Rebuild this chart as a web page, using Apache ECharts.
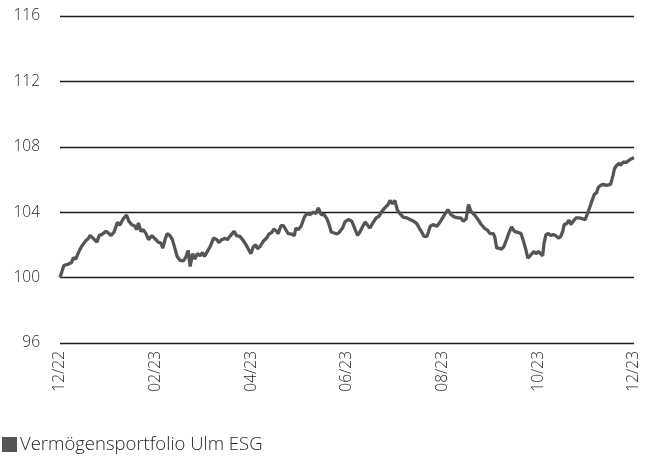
<!DOCTYPE html>
<html>
<head>
<meta charset="utf-8">
<script src="https://cdn.jsdelivr.net/npm/echarts@6/dist/echarts.min.js"></script>
<style>
html,body{margin:0;padding:0;background:#fff;}
#chart{width:649px;height:456px;}
</style>
</head>
<body>
<div id="chart"></div>
<script>
// Time position in months since the start (12/22 = 0, 12/23 = 12)
var months = [0,0.08,0.17,0.24,0.28,0.33,0.38,0.45,0.54,0.59,0.63,0.70,0.77,0.82,0.87,0.96,1.01,1.07,1.13,1.20,1.25,1.32,1.39,1.44,1.50,1.57,1.60,1.64,1.69,1.74,1.80,1.85,1.92,
1.94,1.99,2.06,2.11,2.15,2.20,2.24,2.30,2.35,2.40,2.45,2.51,2.58,2.63,2.68,2.72,2.77,2.82,2.87,2.93,2.98,3.02,3.08,3.14,3.21,3.28,3.32,3.38,3.45,3.50,3.55,3.64,3.69,3.76,3.83,
3.90,3.99,4.04,4.09,4.13,4.18,4.25,4.32,4.37,4.43,4.47,4.53,4.56,4.62,4.67,4.72,4.77,4.84,4.90,4.93,4.98,5.04,5.11,5.16,5.23,5.30,5.35,5.40,5.46,5.52,5.58,5.62,5.67,5.71,5.79,5.84,
5.91,5.96,6.03,6.10,6.15,6.22,6.27,6.33,6.38,6.43,6.48,6.54,6.61,6.67,6.73,6.79,6.86,6.90,6.95,7.00,7.05,7.11,7.18,7.25,7.32,7.39,7.46,7.51,7.56,7.61,7.67,7.70,7.74,7.80,7.88,
7.95,8.03,8.11,8.17,8.24,8.31,8.38,8.43,8.49,8.54,8.59,8.66,8.73,8.80,8.87,8.94,8.99,9.06,9.09,9.13,9.18,9.23,9.28,9.34,9.39,9.44,9.50,9.57,9.64,9.69,9.74,9.78,9.83,9.87,
9.91,9.95,10.00,10.05,10.09,10.12,10.16,10.21,10.26,10.31,10.36,10.42,10.47,10.51,10.54,10.59,10.64,10.68,10.73,10.79,10.86,10.93,10.98,11.02,11.07,11.12,11.17,11.22,11.25,11.30,11.36,11.42,11.46,11.51,11.56,11.59,11.64,11.69,11.72,11.78,11.83,11.88,11.93,11.97,12.00];
var values = [100.0,100.74,100.82,100.92,101.23,101.13,101.5,101.9,102.26,102.38,102.58,102.38,102.17,102.58,102.63,102.83,102.73,102.58,102.79,103.38,103.2,103.59,103.82,103.45,103.24,103.14,102.93,103.34,102.83,102.93,102.67,102.32,102.57,
102.63,102.36,102.15,102.11,101.8,102.36,102.69,102.57,102.32,101.8,101.29,101.05,101.02,101.25,101.66,100.68,101.46,101.13,101.46,101.34,101.54,101.29,101.6,101.9,102.42,102.32,102.15,102.32,102.4,102.32,102.52,102.83,102.57,102.52,102.28,
101.95,101.46,101.87,102.01,101.77,101.9,102.22,102.42,102.67,102.77,102.97,102.83,102.69,103.18,103.18,102.93,102.69,102.67,102.57,103.03,102.93,103.14,103.71,103.91,103.86,104.0,103.91,104.26,103.86,103.86,103.59,103.3,102.79,102.67,102.67,102.77,
103.05,103.42,103.55,103.45,103.08,102.58,102.79,103.14,103.4,103.2,103.03,103.34,103.65,103.75,104.06,104.26,104.47,104.72,104.51,104.72,104.16,103.9,103.69,103.65,103.55,103.45,103.3,103.03,102.79,102.52,102.52,102.77,103.14,103.24,103.14,
103.42,103.8,104.16,103.86,103.71,103.65,103.65,103.45,103.59,104.47,104.06,103.86,103.59,103.28,103.03,102.89,102.69,102.69,102.48,101.8,101.8,101.74,101.9,102.36,102.77,103.1,102.83,102.77,102.69,102.22,101.7,101.19,101.34,101.46,
101.6,101.46,101.6,101.46,101.33,102.11,102.63,102.69,102.57,102.63,102.57,102.42,102.52,102.83,103.24,103.3,103.51,103.24,103.45,103.65,103.65,103.59,103.55,103.86,104.26,104.68,105.09,105.2,105.5,105.64,105.7,105.64,105.76,105.7,106.22,106.66,106.87,107.0,106.87,107.08,107.03,107.14,107.24,107.2,107.34];
var xTickLabels = ['12/22','02/23','04/23','06/23','08/23','10/23','12/23'];
var seriesName = 'Vermögensportfolio Ulm ESG';

var data = months.map(function(m, i){ return [m, values[i]]; });
var fontFam = '"Open Sans", "Noto Sans", sans-serif';
var chart = echarts.init(document.getElementById('chart'), null, {renderer:'canvas'});
chart.setOption({
  animation: false,
  backgroundColor: '#ffffff',
  grid: {left: 60, right: 15, top: 16, bottom: 113, containLabel: false},
  legend: {
    left: 2, bottom: 2, padding: 0,
    icon: 'rect', itemWidth: 15, itemHeight: 15, itemGap: 4,
    data: [seriesName],
    textStyle: {fontFamily: fontFam, fontSize: 18.5, fontWeight: 300, color: '#1f1f1f', padding: [0,0,0,-2]}
  },
  xAxis: {
    type: 'value', min: 0, max: 12, interval: 2,
    axisLine: {show: false}, axisTick: {show: false}, splitLine: {show: false},
    axisLabel: {
      rotate: 90, margin: 8,
      fontFamily: fontFam, fontSize: 15.5, fontWeight: 300, color: '#1f1f1f',
      formatter: function(v){ return xTickLabels[Math.round(v/2)] || ''; }
    }
  },
  yAxis: {
    type: 'value', min: 96, max: 116, interval: 4,
    axisLine: {show: false}, axisTick: {show: false},
    splitLine: {show: true, lineStyle: {color: '#1a1a1a', width: 1.3}},
    axisLabel: {margin: 20, fontFamily: fontFam, fontSize: 15.5, fontWeight: 300, color: '#1f1f1f'}
  },
  series: [{
    name: seriesName,
    type: 'line',
    data: data,
    showSymbol: false,
    symbol: 'none',
    lineStyle: {color: '#555555', width: 3.3},
    itemStyle: {color: '#555555'}
  }]
});
</script>
</body>
</html>
